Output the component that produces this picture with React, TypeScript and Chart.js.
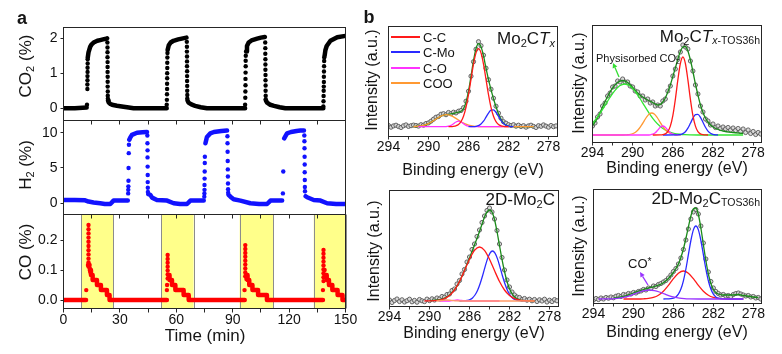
import React, { useEffect, useRef } from 'react';
import { Chart, registerables } from 'chart.js';
Chart.register(...registerables);

const FONT = "'Liberation Sans', Arial, Helvetica, sans-serif";
type Pt = [number, number | null];

// ---------------- Panel a data (time in min) ----------------
const yellowRegions: number[][] = [[9.4, 26.5], [51.9, 69.2], [93.7, 111.5], [133.1, 150]];
const timeTicksLabelled = [0, 30, 60, 90, 120, 150];

const co2Line: Pt[] = [
  [0, 0.0], [6, 0.0], [12.3, 0.02], [12.4, null],
  [12.9, 1.45], [13.3, 1.6], [14.2, 1.76], [15.0, 1.83], [16.0, 1.88], [18.0, 1.93], [19.5, 1.95], [21.0, 1.97], [22.7, 1.99], [23.2, 2.0], [23.3, null],
  [23.7, 0.22], [24.0, 0.17], [25.0, 0.12], [25.8, 0.1], [28.4, 0.07], [31.0, 0.05], [33.8, 0.03], [37.3, 0.0], [45, 0.0], [54.9, 0.0], [55.0, null],
  [55.4, 1.67], [56.0, 1.8], [57.0, 1.88], [58.5, 1.93], [61.0, 1.97], [63.5, 2.0], [65.4, 2.02], [65.5, null],
  [66.0, 0.22], [66.5, 0.16], [68.0, 0.11], [70.0, 0.07], [73.0, 0.03], [76.3, 0.0], [86, 0.0], [96.6, 0.0], [96.7, null],
  [97.1, 1.62], [97.6, 1.78], [98.5, 1.88], [100.0, 1.94], [103.0, 1.99], [105.0, 2.02], [107.1, 2.04], [107.2, null],
  [107.7, 0.22], [108.3, 0.16], [110.0, 0.1], [112.0, 0.07], [115.0, 0.03], [118.0, 0.0], [128, 0.0], [138.2, 0.0], [138.3, null],
  [138.9, 1.5], [139.3, 1.66], [140.0, 1.78], [142.0, 1.93], [145.6, 2.03], [150, 2.07],
];
const co2Dots: Pt[] = [
  [12.5, 0.1], [12.7, 0.55], [12.7, 0.68], [12.75, 0.8], [12.75, 0.92], [12.8, 1.04], [12.8, 1.16], [12.85, 1.28], [12.85, 1.4],
  [23.35, 1.88], [23.4, 1.74], [23.4, 1.6], [23.4, 1.46], [23.45, 1.32], [23.45, 1.18], [23.45, 1.04], [23.5, 0.9], [23.5, 0.76], [23.5, 0.62], [23.55, 0.48], [23.55, 0.36], [23.6, 0.27],
  [54.9, 0.1], [55.0, 0.24], [55.05, 0.4], [55.1, 0.55], [55.1, 0.7], [55.15, 0.86], [55.15, 1.0], [55.2, 1.15], [55.2, 1.3], [55.25, 1.45], [55.3, 1.58],
  [65.6, 1.9], [65.65, 1.76], [65.65, 1.62], [65.7, 1.48], [65.7, 1.34], [65.7, 1.2], [65.75, 1.06], [65.75, 0.92], [65.75, 0.78], [65.8, 0.64], [65.8, 0.5], [65.85, 0.38], [65.85, 0.28],
  [96.6, 0.1], [96.7, 0.3], [96.75, 0.48], [96.8, 0.66], [96.8, 0.84], [96.85, 1.02], [96.9, 1.2], [96.9, 1.36], [96.95, 1.5],
  [107.3, 1.88], [107.35, 1.72], [107.35, 1.56], [107.4, 1.4], [107.4, 1.25], [107.4, 1.1], [107.45, 0.95], [107.45, 0.8], [107.5, 0.65], [107.5, 0.5], [107.55, 0.36], [107.55, 0.26],
  [138.2, 0.05], [138.3, 0.2], [138.35, 0.35], [138.4, 0.5], [138.45, 0.62], [138.5, 0.75], [138.5, 0.9], [138.55, 1.05], [138.6, 1.2], [138.65, 1.35], [138.7, 1.45],
];

const h2Line: Pt[] = [
  [0, 0.45], [6, 0.45], [11.5, 0.42], [13.3, 0.24], [16, 0.12], [19.5, 0.0], [22, -0.1], [24.9, -0.1], [26.6, 0.38], [30, 0.38], [34.2, 0.4], [34.3, null],
  [35.0, 9.0], [35.5, 9.3], [36.4, 9.7], [39.1, 10.0], [42.0, 10.05], [44.4, 10.1], [44.5, null],
  [45.1, 1.3], [46.2, 1.2], [47.1, 0.8], [49.7, 0.47], [55.1, 0.38], [58.6, 0.0], [62.0, -0.1], [65.7, -0.1], [67.5, 0.38], [74.6, 0.4], [74.7, null],
  [75.5, 8.5], [76.3, 9.4], [78.1, 9.9], [80.0, 10.1], [84.0, 10.25], [87.0, 10.3], [87.1, null],
  [87.8, 1.2], [88.8, 0.94], [90.5, 0.57], [94.1, 0.38], [99.4, 0.0], [104, -0.1], [108.3, -0.1], [110.1, 0.38], [116.3, 0.4], [116.4, null],
  [117.4, 9.2], [118.9, 9.9], [121.0, 10.1], [124.0, 10.25], [126.0, 10.3], [127.9, 10.3], [128.0, null],
  [128.8, 1.0], [129.6, 0.85], [133.1, 0.47], [136.7, 0.38], [140.2, 0.0], [145, -0.1], [150, -0.1],
];
const h2Dots: Pt[] = [
  [34.4, 1.4], [34.45, 1.9], [34.5, 2.4], [34.55, 3.2], [34.6, 5.0], [34.7, 7.1], [34.8, 8.3],
  [44.6, 9.6], [44.65, 8.5], [44.7, 7.5], [44.7, 6.5], [44.75, 5.2], [44.8, 4.0], [44.8, 3.0], [44.85, 2.2], [44.9, 1.6],
  [74.9, 0.94], [74.95, 1.4], [75.0, 1.9], [75.0, 2.6], [75.05, 3.5], [75.1, 4.5], [75.15, 5.7], [75.2, 6.6],
  [87.2, 9.5], [87.25, 8.5], [87.3, 7.3], [87.35, 6.0], [87.4, 4.8], [87.45, 3.8], [87.5, 2.8], [87.55, 2.0], [87.6, 1.5],
  [116.7, 1.4], [116.9, 4.5],
  [128.1, 9.6], [128.15, 8.8], [128.2, 7.8], [128.25, 6.6], [128.3, 5.5], [128.3, 4.4], [128.35, 3.3], [128.4, 2.3], [128.45, 1.7],
];

const coLine: Pt[] = [
  [0, 0], [12.0, 0], [12.0, null],
  [14.0, 0.1], [14.6, 0.083], [15.5, 0.067], [17.8, 0.05], [19.9, 0.033], [23.1, 0.017], [24.5, 0], [55.0, 0], [55.0, null],
  [56.0, 0.083], [56.4, 0.067], [57.7, 0.05], [59.5, 0.033], [63.9, 0.017], [66.6, 0], [96.4, 0], [96.4, null],
  [97.5, 0.083], [97.9, 0.067], [98.8, 0.05], [100.5, 0.033], [103.5, 0.017], [108.2, 0], [138.0, 0], [138.0, null],
  [139.4, 0.083], [140.0, 0.067], [141.2, 0.05], [143.0, 0.033], [145.8, 0.017], [148.4, 0], [150, 0],
];
const coDots: Pt[] = [
  [12.1, 0.033], [13.0, 0.117],
  [13.3, 0.25], [13.3, 0.236], [13.3, 0.222], [13.3, 0.208], [13.3, 0.194], [13.3, 0.18], [13.3, 0.166], [13.3, 0.152], [13.3, 0.138], [13.3, 0.125], [13.3, 0.112],
  [13.9, 0.117], [14.0, 0.106], [14.2, 0.094],
  [55.0, 0.033], [55.1, 0.05],
  [55.4, 0.15], [55.4, 0.137], [55.4, 0.124], [55.4, 0.111], [55.4, 0.098], [55.4, 0.085], [55.4, 0.072],
  [96.3, 0.033],
  [96.7, 0.183], [96.7, 0.17], [96.7, 0.157], [96.7, 0.144], [96.7, 0.131], [96.7, 0.118], [96.7, 0.105], [96.7, 0.092], [96.7, 0.079],
  [97.2, 0.083], [97.3, 0.07],
  [138.0, 0.033],
  [138.3, 0.167], [138.3, 0.154], [138.3, 0.141], [138.3, 0.128], [138.3, 0.115], [138.3, 0.102], [138.3, 0.089], [138.3, 0.076], [138.3, 0.063],
  [138.9, 0.1], [139.1, 0.083],
];

// ---------------- Panel b data (binding energy, eV) ----------------
const xpsEnergy = [
  294, 293.75, 293.5, 293.25, 293, 292.75, 292.5, 292.25, 292, 291.75, 291.5, 291.25, 291, 290.75, 290.5, 290.25, 290,
  289.75, 289.5, 289.25, 289, 288.75, 288.5, 288.25, 288, 287.75, 287.5, 287.25, 287, 286.75, 286.5, 286.25, 286,
  285.75, 285.5, 285.25, 285, 284.75, 284.5, 284.25, 284, 283.75, 283.5, 283.25, 283, 282.75, 282.5, 282.25, 282,
  281.75, 281.5, 281.25, 281, 280.75, 280.5, 280.25, 280, 279.75, 279.5, 279.25, 279, 278.75, 278.5, 278.25, 278,
  277.75, 277.5, 277.25,
];

// Mo2CTx
const tlData = [1.2, -0.5, 0.8, 1.5, 0.2, -0.8, 0.9, 1.8, 0.3, 1.0, 1.6, 1.2, 0.6, 2.0, 1.5, 3.2, 3.8, 5.5, 7.5, 9.5, 10.2, 12.5, 13.0, 12.0, 14.2, 13.0, 14.5, 13.8, 15.5, 16.2, 19.0, 25.5, 35.5, 50.5, 65.0, 77.5, 85.0, 81.0, 71.5, 58.5, 47.0, 37.5, 28.5, 20.5, 13.5, 8.5, 5.0, 3.5, 2.0, 1.2, 2.0, 0.5, 1.5, 0.2, 1.0, -0.5, 0.8, 1.5, 0.3, -0.8, 1.0, 0.4, 1.8, 0.6, -0.5, 1.2, 0.0, 0.8];
const tlFit: Pt[] = [[291.5, 0.1], [291, 0.5], [290.5, 1.4], [290, 3.1], [289.5, 6.0], [289, 9.2], [288.5, 11.6], [288, 12.4], [287.5, 13.3], [287.25, 14.0], [287, 14.6], [286.75, 15.4], [286.5, 18.0], [286.25, 24.5], [286, 35.5], [285.75, 50.5], [285.5, 66], [285.25, 78], [285, 83], [284.75, 80], [284.5, 71], [284.25, 58.5], [284, 47], [283.75, 37], [283.5, 28], [283.25, 20], [283, 13], [282.75, 7.5], [282.5, 3.8], [282.25, 1.6], [282, 0.6], [281.5, 0.1], [281, 0], [279.5, 0]];
const tlCC: Pt[] = [[288, 0], [287.5, 0.3], [287.25, 0.9], [287, 2.2], [286.75, 5.1], [286.5, 10.5], [286.25, 19.4], [286, 32.1], [285.75, 47.3], [285.5, 62.5], [285.25, 73.8], [285, 78], [284.75, 73.8], [284.5, 62.5], [284.25, 47.3], [284, 32.1], [283.75, 19.4], [283.5, 10.5], [283.25, 5.1], [283, 2.2], [282.75, 0.9], [282.5, 0.3], [282, 0]];
const tlCMo: Pt[] = [[286, 0], [285.5, 0.1], [285.25, 0.4], [285, 1.1], [284.75, 2.7], [284.5, 5.5], [284.25, 9.5], [284, 13.6], [283.75, 16.5], [283.5, 16.8], [283.25, 14.3], [283, 10.3], [282.75, 6.2], [282.5, 3.2], [282.25, 1.4], [282, 0.5], [281.75, 0.1], [281.5, 0]];
const tlCO: Pt[] = [[291, 0], [288.5, 0], [288.25, 0.1], [288, 0.5], [287.75, 1.4], [287.5, 3.0], [287.25, 4.7], [287, 5.5], [286.75, 4.7], [286.5, 3.0], [286.25, 1.4], [286, 0.5], [285.75, 0.1], [285.5, 0], [282, 0]];
const tlCOO: Pt[] = [[291.5, 0.1], [291.25, 0.3], [291, 0.5], [290.75, 0.8], [290.5, 1.35], [290.25, 2.1], [290, 3.1], [289.75, 4.4], [289.5, 6.0], [289.25, 7.6], [289, 9.2], [288.75, 10.6], [288.5, 11.6], [288.25, 12.0], [288, 11.8], [287.75, 11.0], [287.5, 9.8], [287.25, 8.3], [287, 6.6], [286.75, 5.0], [286.5, 3.6], [286.25, 2.5], [286, 1.6], [285.75, 1.0], [285.5, 0.6], [285.25, 0.3], [285, 0.2], [284.5, 0], [279.5, 0]];

// Mo2CTx-TOS36h
const trData = [9, 12, 18, 21, 29, 32, 39, 42, 48, 49, 54, 53, 56, 53, 53, 49, 48, 44, 43, 39, 39, 35, 36, 32, 33, 29, 30, 29, 34, 36, 44, 49, 59, 66, 77, 83, 90, 88, 86, 74, 64, 50, 41, 29, 23, 16, 14, 10, 11, 7.5, 9, 6.5, 8, 6, 7.5, 5, 7, 4.5, 6.5, 3.5, 6, 2.5, 5, 1.5, 3.5, 0.5, 2.5, 1];
const trFit: Pt[] = [[294, 9], [293.5, 17], [293, 28], [292.5, 38.5], [292, 47], [291.5, 52.5], [291, 54.5], [290.5, 52.5], [290, 47.5], [289.5, 42], [289, 38], [288.5, 35], [288, 32.5], [287.5, 30], [287.25, 30.5], [287, 33], [286.75, 37], [286.5, 43], [286.25, 50], [286, 58.5], [285.75, 67], [285.5, 76], [285.25, 83.5], [285, 88], [284.75, 88.5], [284.5, 84], [284.25, 75], [284, 63.5], [283.75, 51], [283.5, 40], [283.25, 30], [283, 22.5], [282.75, 17], [282.5, 13], [282.25, 10], [282, 8], [281.5, 5.5], [281, 4], [280, 2.5], [279, 1.5]];
const trPhys: Pt[] = [[294, 11.8], [293.8, 14.1], [293.3, 20.9], [292.8, 28.8], [292.3, 37.0], [291.8, 44.2], [291.3, 49.2], [290.8, 51], [290.3, 49.2], [289.8, 44.2], [289.3, 37.0], [288.8, 28.8], [288.3, 20.9], [287.8, 14.1], [287.3, 8.9], [286.8, 5.2], [286.3, 2.8], [285.8, 1.4], [285.3, 0.7], [284.8, 0.3], [284.3, 0.1], [283.5, 0], [279, 0]];
const trCOO: Pt[] = [[294, 0], [290.9, 0], [290.6, 0.2], [290.35, 0.4], [290.1, 1.0], [289.85, 2.0], [289.6, 3.8], [289.35, 6.5], [289.1, 10.1], [288.85, 14.2], [288.6, 18.1], [288.35, 20.9], [288.1, 22], [287.85, 20.9], [287.6, 18.1], [287.35, 14.2], [287.1, 10.1], [286.85, 6.5], [286.6, 3.8], [286.35, 2.0], [286.1, 1.0], [285.85, 0.4], [285.6, 0.2], [285.2, 0]];
const trCO: Pt[] = [[294, 0], [288.5, 0], [288.25, 0.2], [288, 0.8], [287.75, 2.2], [287.5, 4.9], [287.25, 7.7], [287, 9], [286.75, 7.7], [286.5, 4.9], [286.25, 2.2], [286, 0.8], [285.75, 0.2], [285.5, 0]];
const trCC: Pt[] = [[288, 0], [287.25, 0.07], [287, 0.3], [286.75, 1.1], [286.5, 3.4], [286.25, 8.9], [286, 19.4], [285.75, 35.7], [285.5, 55.1], [285.25, 71.5], [285, 78], [284.75, 71.5], [284.5, 55.1], [284.25, 35.7], [284, 19.4], [283.75, 8.9], [283.5, 3.4], [283.25, 1.1], [283, 0.3], [282.5, 0]];
const trCMo: Pt[] = [[287, 0], [285.5, 0.14], [285.25, 0.5], [285, 1.4], [284.75, 3.3], [284.5, 6.8], [284.25, 11.7], [284, 16.8], [283.75, 20.3], [283.5, 20.7], [283.25, 17.7], [283, 12.7], [282.75, 7.7], [282.5, 3.9], [282.25, 1.7], [282, 0.6], [281.75, 0.2], [281.5, 0]];

// 2D-Mo2C
const blData = [1.0, -1.5, 0.5, 2.0, -0.5, 1.2, -1.0, 0.3, 1.8, -0.8, 0.6, -1.2, 1.5, 0.2, -0.6, 1.9, 0.4, 2.2, 1.0, 3.0, 2.0, 4.5, 3.8, 6.5, 7.0, 10.5, 12.0, 17.0, 20.5, 27.0, 31.5, 39.0, 44.0, 51.5, 57.0, 64.5, 71.0, 78.5, 85.0, 90.5, 93.0, 89.0, 82.0, 70.5, 57.0, 43.5, 31.0, 21.0, 14.0, 9.0, 6.0, 4.0, 3.5, 1.5, 2.5, 0.8, 1.8, 0.2, 1.5, -0.5, 1.2, 0.0, 1.8, -1.0, 0.8, -0.6, 1.4, 0.2];
const blFit: Pt[] = [[290, 0.3], [289.5, 0.8], [289, 1.4], [288.75, 2], [288.5, 2.9], [288.25, 4.3], [288, 6], [287.75, 8.5], [287.5, 11.3], [287.25, 15], [287, 19.5], [286.75, 25], [286.5, 30.6], [286.25, 37], [286, 43.1], [285.75, 49.5], [285.5, 56], [285.25, 62.5], [285, 69.5], [284.75, 76.8], [284.5, 84], [284.25, 89], [284, 91], [283.75, 89], [283.5, 81.5], [283.25, 69.5], [283, 55.5], [282.75, 41.7], [282.5, 29.5], [282.25, 19.5], [282, 12.3], [281.75, 7.5], [281.5, 4.2], [281.25, 2.3], [281, 1.2], [280.75, 0.6], [280.5, 0.3], [280, 0.1], [279.5, 0]];
const blCC: Pt[] = [[290.5, 0], [290, 0.1], [289.5, 0.3], [289, 0.9], [288.5, 2.4], [288, 5.5], [287.5, 11.0], [287, 19.5], [286.5, 30.4], [286, 41.8], [285.5, 50.7], [285, 54], [284.5, 50.7], [284, 41.8], [283.5, 30.4], [283, 19.5], [282.5, 11.0], [282, 5.5], [281.5, 2.4], [281, 0.9], [280.5, 0.3], [280, 0.1], [279.5, 0]];
const blCMo: Pt[] = [[287, 0], [286.2, 0.7], [285.95, 1.5], [285.7, 3.1], [285.45, 6.0], [285.2, 10.5], [284.95, 17.0], [284.7, 25.0], [284.45, 33.9], [284.2, 42.1], [283.95, 47.9], [283.7, 50], [283.45, 47.9], [283.2, 42.1], [282.95, 33.9], [282.7, 25.0], [282.45, 17.0], [282.2, 10.5], [281.95, 6.0], [281.7, 3.1], [281.45, 1.5], [281.2, 0.7], [280.7, 0.1], [280.2, 0]];
const blCO: Pt[] = [[289, 0], [288, 0], [287.6, 0.6], [287.2, 1.0], [286.8, 0.5], [286.3, 0], [283, 0]];
const blCOO: Pt[] = [[289.3, 0], [288.8, 0.5], [288.3, 1.0], [287.8, 0.6], [287.3, 0.2], [286.5, 0], [279.5, 0]];

// 2D-Mo2C TOS36h
const brData = [-1.0, 0.5, -0.5, 1.0, 0.0, 1.5, 0.8, 2.0, 1.2, 2.8, 3.5, 2.5, 4.5, 4.0, 5.5, 5.0, 6.5, 6.0, 7.5, 8.0, 9.5, 9.0, 11.0, 10.5, 13.0, 12.5, 14.5, 15.5, 17.0, 18.5, 21.0, 24.0, 27.5, 30.5, 35.0, 41.0, 49.5, 59.0, 70.0, 80.0, 87.0, 89.5, 85.0, 73.0, 56.0, 40.0, 27.0, 17.5, 11.0, 7.5, 5.5, 4.0, 4.5, 3.0, 3.5, 2.5, 4.5, 5.5, 6.0, 5.0, 4.0, 3.0, 3.5, 2.0, 2.5, 1.0, 1.5, 0.0];
const brFit: Pt[] = [[292, 1], [291, 2.5], [290, 6], [289.5, 7.8], [289, 9.5], [288.5, 11], [288, 12.2], [287.5, 13.8], [287, 16.3], [286.5, 20.5], [286, 26.5], [285.75, 30.5], [285.5, 35], [285.25, 41.5], [285, 50], [284.75, 60.5], [284.5, 72], [284.25, 83], [284, 90], [283.75, 91], [283.5, 84.5], [283.25, 71], [283, 54.5], [282.75, 38.5], [282.5, 25], [282.25, 15.5], [282, 9.5], [281.75, 6.5], [281.5, 5], [281, 4], [280, 4], [279.5, 4.5], [279, 3.5], [278, 2], [277.5, 1.5]];
const brCMo: Pt[] = [[287, 0], [286.25, 0.3], [286, 0.8], [285.75, 2.1], [285.5, 4.8], [285.25, 9.9], [285, 18.2], [284.75, 30.0], [284.5, 44.3], [284.25, 58.5], [284, 69.1], [283.75, 73], [283.5, 69.1], [283.25, 58.5], [283, 44.3], [282.75, 30.0], [282.5, 18.2], [282.25, 9.9], [282, 4.8], [281.75, 2.1], [281.5, 0.8], [281.25, 0.3], [280.5, 0], [279, 0]];
const brCC: Pt[] = [[291, 0], [289.5, 0], [289, 0.2], [288.5, 0.6], [288, 1.6], [287.5, 3.8], [287, 7.8], [286.5, 13.6], [286, 20.3], [285.5, 25.8], [285, 28], [284.5, 25.8], [284, 20.3], [283.5, 13.6], [283, 7.8], [282.5, 3.8], [282, 1.6], [281.5, 0.6], [281, 0.2], [280.5, 0], [279, 0]];
const brCOstar: Pt[] = [[293.5, 0], [292.4, 0.15], [291.9, 0.4], [291.4, 0.9], [290.9, 1.8], [290.4, 3.2], [289.9, 5.1], [289.4, 7.0], [288.9, 8.4], [288.4, 9], [287.9, 8.4], [287.4, 7.0], [286.9, 5.1], [286.4, 3.2], [285.9, 1.8], [285.4, 0.9], [284.9, 0.4], [284.4, 0.15], [283.5, 0], [279, 0]];

const legendLabels = ['C-C', 'C-Mo', 'C-O', 'COO'];
const legendColors = ['#ff1a1a', '#2a2aff', '#ff33ff', '#ff9933'];

// ---------------- helpers ----------------
const toXY = (arr: Pt[]) => arr.map(([x, y]) => ({ x, y: y === null ? NaN : y }));

const framePlugin = {
  id: 'frame',
  afterDraw(chart: any) {
    const { ctx, chartArea: a } = chart;
    ctx.save();
    ctx.strokeStyle = '#262626';
    ctx.lineWidth = 1;
    ctx.strokeRect(a.left, a.top, a.right - a.left, a.bottom - a.top);
    ctx.restore();
  },
};

const shadePlugin = {
  id: 'shade',
  beforeDatasetsDraw(chart: any, _args: any, opts: any) {
    if (!opts || !opts.regions || !opts.regions.length) return;
    const { ctx, chartArea: a, scales } = chart;
    const xs = scales.x;
    ctx.save();
    for (const [s, e] of opts.regions) {
      const x1 = xs.getPixelForValue(s);
      const x2 = xs.getPixelForValue(e);
      ctx.fillStyle = '#ffff8a';
      ctx.fillRect(x1, a.top, x2 - x1, a.bottom - a.top);
      ctx.strokeStyle = '#8c8c8c';
      ctx.lineWidth = 1;
      ctx.beginPath();
      ctx.moveTo(Math.round(x1) + 0.5, a.top);
      ctx.lineTo(Math.round(x1) + 0.5, a.bottom);
      ctx.moveTo(Math.round(x2) + 0.5, a.top);
      ctx.lineTo(Math.round(x2) + 0.5, a.bottom);
      ctx.stroke();
    }
    ctx.restore();
  },
};

function timeConfig(p: {
  line: Pt[]; dots: Pt[]; color: string; yMin: number; yMax: number; yStep: number;
  fmt: (v: number) => string; showX: boolean; xh: number; stepped?: boolean; regions?: number[][];
}) {
  return {
    type: 'scatter',
    data: {
      datasets: [
        {
          data: toXY(p.line), showLine: true, borderColor: p.color, borderWidth: 4.5, pointRadius: 0,
          spanGaps: false, stepped: p.stepped ? 'before' : false, borderCapStyle: 'round', borderJoinStyle: 'round', order: 2,
        },
        {
          data: toXY(p.dots), showLine: false, pointRadius: 2.2, backgroundColor: p.color, borderColor: p.color,
          pointBorderWidth: 0, order: 1,
        },
      ],
    },
    options: {
      responsive: false, animation: false, devicePixelRatio: 1,
      layout: { padding: { left: 0, top: 10.5, right: 14.5, bottom: 0 } },
      plugins: { legend: { display: false }, tooltip: { enabled: false }, shade: { regions: p.regions || [] } },
      scales: {
        x: {
          type: 'linear', min: 0, max: 150,
          ticks: {
            stepSize: 15, includeBounds: false, autoSkip: false, maxRotation: 0, padding: 1, color: '#111',
            font: { family: FONT, size: 14, lineHeight: 1 },
            callback: (v: number) => (p.showX && timeTicksLabelled.includes(v) ? String(v) : ''),
          },
          grid: { drawOnChartArea: false, drawTicks: true, tickLength: 4, color: '#262626' },
          border: { display: false },
          afterFit: (s: any) => { s.height = p.xh; s.paddingLeft = 0; s.paddingRight = 0; },
        },
        y: {
          type: 'linear', min: p.yMin, max: p.yMax,
          ticks: {
            stepSize: p.yStep, includeBounds: false, padding: 3, color: '#111',
            font: { family: FONT, size: 14, lineHeight: 1 }, callback: (v: number) => p.fmt(v),
          },
          grid: { drawOnChartArea: false, drawTicks: true, tickLength: 3, color: '#262626' },
          border: { display: false },
          afterFit: (s: any) => { s.width = 63.5; s.paddingTop = 0; s.paddingBottom = 0; },
        },
      },
    },
    plugins: [shadePlugin, framePlugin],
  };
}

type Curve = { pts: Pt[]; color: string; order: number; w?: number };

function xpsConfig(p: {
  xMin: number; yMin: number; yMax: number; data: number[]; curves: Curve[];
  padLeft: number; padRight: number; padTop: number; xh: number;
}) {
  return {
    type: 'scatter',
    data: {
      datasets: [
        {
          data: xpsEnergy.map((e, i) => ({ x: e, y: p.data[i] })), showLine: false, pointRadius: 2.1,
          backgroundColor: 'rgba(214,214,214,0.9)', borderColor: '#575757', pointBorderWidth: 0.9, order: 20,
        },
        ...p.curves.map((c) => ({
          data: toXY(c.pts), showLine: true, borderColor: c.color, borderWidth: c.w ?? 1.3, pointRadius: 0,
          cubicInterpolationMode: 'monotone', order: c.order,
        })),
      ],
    },
    options: {
      responsive: false, animation: false, devicePixelRatio: 1,
      layout: { padding: { left: p.padLeft, top: p.padTop, right: p.padRight, bottom: 0 } },
      plugins: { legend: { display: false }, tooltip: { enabled: false } },
      scales: {
        x: {
          type: 'linear', reverse: true, min: p.xMin, max: 294,
          ticks: {
            stepSize: 2, includeBounds: false, autoSkip: false, maxRotation: 0, padding: 1, color: '#111',
            font: { family: FONT, size: 14, lineHeight: 1 },
            callback: (v: number) => (Math.round(v) % 4 === 2 ? String(v) : ''),
          },
          grid: { drawOnChartArea: false, drawTicks: true, tickLength: 3, color: '#333' },
          border: { display: false },
          afterFit: (s: any) => { s.height = p.xh; s.paddingLeft = 0; s.paddingRight = 0; },
        },
        y: { display: false, min: p.yMin, max: p.yMax },
      },
    },
    plugins: [framePlugin],
  };
}

function ChartCanvas({ left, top, width, height, make }: { left: number; top: number; width: number; height: number; make: () => any }) {
  const ref = useRef<HTMLCanvasElement | null>(null);
  useEffect(() => {
    if (!ref.current) return;
    const chart = new Chart(ref.current, make());
    return () => chart.destroy();
  }, []);
  return (
    <canvas ref={ref} width={width} height={height}
      style={{ position: 'absolute', left, top, width, height, display: 'block' }} />
  );
}

const Sub = ({ children, size = '0.65em', drop = '-0.28em' }: any) => (
  <span style={{ fontSize: size, verticalAlign: drop, lineHeight: 0 }}>{children}</span>
);

const VText = ({ cx, cy, size, children }: any) => (
  <div style={{
    position: 'absolute', left: cx, top: cy, transform: 'translate(-50%,-50%) rotate(-90deg)',
    fontSize: size, whiteSpace: 'nowrap', lineHeight: 1,
  }}>{children}</div>
);

const HText = ({ cx, cy, size, children }: any) => (
  <div style={{
    position: 'absolute', left: cx, top: cy, transform: 'translate(-50%,-50%)',
    fontSize: size, whiteSpace: 'nowrap', lineHeight: 1,
  }}>{children}</div>
);

const RText = ({ right, cy, size, children }: any) => (
  <div style={{
    position: 'absolute', right: 782 - right, top: cy, transform: 'translateY(-50%)',
    fontSize: size, whiteSpace: 'nowrap', lineHeight: 1,
  }}>{children}</div>
);

export default function App() {
  return (
    <div style={{
      position: 'fixed', left: 0, top: 0, width: 782, height: 354, background: '#fff', overflow: 'hidden',
      fontFamily: FONT, color: '#151515',
    }}>
      {/* Panel a: CO (bottom), H2, CO2 (top); upper canvases on top */}
      <ChartCanvas left={0} top={204} width={360} height={134} make={() => timeConfig({
        line: coLine, dots: coDots, color: '#ff0000', yMin: -0.0283, yMax: 0.285, yStep: 0.1,
        fmt: (v) => v.toFixed(1), showX: true, xh: 29.5, stepped: true, regions: yellowRegions,
      })} />
      <ChartCanvas left={0} top={110} width={360} height={113} make={() => timeConfig({
        line: h2Line, dots: h2Dots, color: '#1212ff', yMin: -1.59, yMax: 11.73, yStep: 5,
        fmt: (v) => String(v), showX: false, xh: 8.5,
      })} />
      <ChartCanvas left={0} top={17} width={360} height={112} make={() => timeConfig({
        line: co2Line, dots: co2Dots, color: '#000000', yMin: -0.35, yMax: 2.31, yStep: 1,
        fmt: (v) => String(v), showX: false, xh: 8.5,
      })} />

      {/* Panel b */}
      <ChartCanvas left={360} top={16} width={213} height={146} make={() => xpsConfig({
        xMin: 277.1, yMin: -9.8, yMax: 100.2, data: tlData, padLeft: 28.5, padRight: 15.5, padTop: 10.5, xh: 25.5,
        curves: [
          { pts: tlCC, color: '#ff1a1a', order: 1 },
          { pts: tlCMo, color: '#2a2aff', order: 2 },
          { pts: tlCO, color: '#ff33ff', order: 3 },
          { pts: tlCOO, color: '#ff9933', order: 4 },
          { pts: tlFit, color: '#1a8a1a', order: 5 },
        ],
      })} />
      <ChartCanvas left={575} top={15} width={202} height={150} make={() => xpsConfig({
        xMin: 277.17, yMin: -7.5, yMax: 109.5, data: trData, padLeft: 17.5, padRight: 15.5, padTop: 10.5, xh: 22.5,
        curves: [
          { pts: trCC, color: '#ff1a1a', order: 1 },
          { pts: trCMo, color: '#2a2aff', order: 2 },
          { pts: trCO, color: '#ff33ff', order: 3 },
          { pts: trCOO, color: '#ff9933', order: 4 },
          { pts: trPhys, color: '#33e633', order: 5 },
          { pts: trFit, color: '#1a8a1a', order: 6 },
        ],
      })} />
      <ChartCanvas left={360} top={180} width={213} height={150} make={() => xpsConfig({
        xMin: 277.1, yMin: -5.5, yMax: 110.5, data: blData, padLeft: 29.5, padRight: 14.5, padTop: 10.5, xh: 23.5,
        curves: [
          { pts: blCOO, color: '#ff9966', order: 1 },
          { pts: blCO, color: '#ff33ff', order: 2 },
          { pts: blCC, color: '#ff1a1a', order: 3 },
          { pts: blCMo, color: '#2a2aff', order: 4 },
          { pts: blFit, color: '#1a8a1a', order: 5 },
        ],
      })} />
      <ChartCanvas left={575} top={179} width={202} height={150} make={() => xpsConfig({
        xMin: 277.18, yMin: -4.5, yMax: 109.5, data: brData, padLeft: 18.5, padRight: 15.5, padTop: 10.5, xh: 25.5,
        curves: [
          { pts: brCOstar, color: '#9933ff', order: 1 },
          { pts: brCMo, color: '#2a2aff', order: 2 },
          { pts: brCC, color: '#ff1a1a', order: 3 },
          { pts: brFit, color: '#1a8a1a', order: 4 },
        ],
      })} />

      {/* panel letters */}
      <HText cx={22} cy={18} size={18}><b>a</b></HText>
      <HText cx={369} cy={17} size={18}><b>b</b></HText>

      {/* panel a axis titles */}
      <VText cx={25} cy={66} size={17}>CO<Sub>2</Sub> (%)</VText>
      <VText cx={25} cy={165} size={17}>H<Sub>2</Sub> (%)</VText>
      <VText cx={25} cy={252} size={17}>CO (%)</VText>
      <HText cx={205} cy={335} size={17}>Time (min)</HText>

      {/* panel b axis titles */}
      <VText cx={372} cy={80} size={16}>Intensity (a.u.)</VText>
      <VText cx={579} cy={83} size={16}>Intensity (a.u.)</VText>
      <VText cx={374} cy={251} size={16}>Intensity (a.u.)</VText>
      <VText cx={579} cy={246} size={16}>Intensity (a.u.)</VText>
      <HText cx={473} cy={170} size={16}>Binding energy (eV)</HText>
      <HText cx={677} cy={168} size={16}>Binding energy (eV)</HText>
      <HText cx={474} cy={333} size={16}>Binding energy (eV)</HText>
      <HText cx={677} cy={332} size={16}>Binding energy (eV)</HText>

      {/* panel b titles */}
      <RText right={555} cy={38} size={17}>Mo<Sub>2</Sub>C<i>T</i><Sub><i>x</i></Sub></RText>
      <RText right={760} cy={36} size={17}>Mo<Sub>2</Sub>C<i>T</i><Sub size="0.62em"><i>x</i>-TOS36h</Sub></RText>
      <RText right={555} cy={199} size={17}>2D-Mo<Sub>2</Sub>C</RText>
      <RText right={760} cy={198} size={17}>2D-Mo<Sub>2</Sub>C<Sub size="0.62em">TOS36h</Sub></RText>

      {/* legend in Mo2CTx */}
      {legendLabels.map((lab, i) => (
        <React.Fragment key={lab}>
          <div style={{ position: 'absolute', left: 391, top: Math.round(37 + i * 15.3) - 1, width: 29, height: 2, background: legendColors[i] }} />
          <div style={{ position: 'absolute', left: 423, top: Math.round(37 + i * 15.3), transform: 'translateY(-50%)', fontSize: 13, lineHeight: 1, whiteSpace: 'nowrap' }}>{lab}</div>
        </React.Fragment>
      ))}

      {/* annotations */}
      <div style={{ position: 'absolute', left: 596, top: 53, fontSize: 11, lineHeight: 1, whiteSpace: 'nowrap' }}>
        Physisorbed CO<Sub>2</Sub>
      </div>
      <div style={{ position: 'absolute', left: 628, top: 257, fontSize: 13, lineHeight: 1, whiteSpace: 'nowrap' }}>
        CO<span style={{ fontSize: '0.8em', verticalAlign: '0.25em' }}>*</span>
      </div>
      <svg width={782} height={354} style={{ position: 'absolute', left: 0, top: 0, pointerEvents: 'none' }}>
        <line x1={619} y1={77} x2={615} y2={67.6} stroke="#33dd33" strokeWidth={1.3} />
        <polygon points="613,63 617.3,66.6 612.7,68.6" fill="#33dd33" />
        <line x1={648} y1={285} x2={642.6} y2={276.3} stroke="#9933ff" strokeWidth={1.3} />
        <polygon points="640,272 644.7,275 640.5,277.6" fill="#9933ff" />
      </svg>
    </div>
  );
}
